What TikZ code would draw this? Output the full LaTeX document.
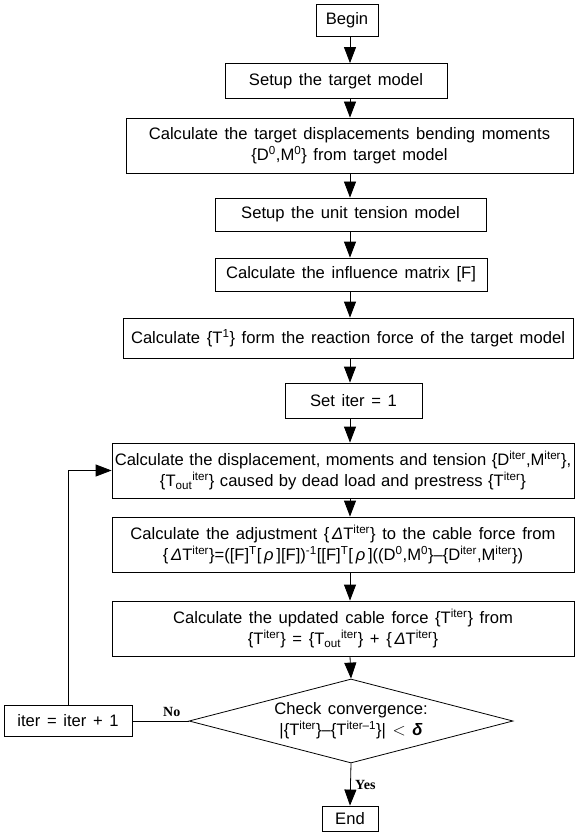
\documentclass[tikz,border=0pt]{standalone}
\usepackage{fontspec}
\setmainfont{Liberation Sans}
\newfontfamily\labelfont{Liberation Serif}
\usetikzlibrary{arrows.meta,shapes.geometric}
% superscript / subscript helpers
\newcommand{\Up}[1]{\textsuperscript{#1}}
\newcommand{\Dn}[1]{\textsubscript{#1}}
\newcommand{\DT}{\textit{Δ}T}
% slightly wider word spacing for the box texts
\newcommand{\widespaces}{\spaceskip=0.4em plus 0.1em\relax}
\newcommand{\tightspaces}{\spaceskip=0.33em plus 0.05em\relax}
\begin{document}
\begin{tikzpicture}[x=1pt,y=-1pt,
  font=\fontsize{16.6}{21}\selectfont,
  box/.style={draw, line width=0.8pt, inner sep=0pt, align=center,
              execute at begin node=\widespaces},
  flow/.style={-{Triangle[width=12pt,length=16pt]}, line width=0.8pt},
  line/.style={line width=0.8pt},
  yn/.style={font=\labelfont\bfseries\fontsize{14}{16}\selectfont}]
\useasboundingbox (0,0) rectangle (588,834);

% vertical axis of the main chain
\coordinate (axis) at (350,0);

\node[box, minimum width=62pt, minimum height=32pt] (begin) at (347,20) {Begin};
\node[box, minimum width=222pt, minimum height=35pt] (setup) at (336,81) {Setup the target model};
\node[box, minimum width=447pt, minimum height=55pt] (target) at (349.5,145.5)
  {Calculate the target displacements bending moments\\
   \{D\Up{0},M\Up{0}\} from target model};
\node[box, minimum width=271pt, minimum height=33pt] (unit) at (350.5,214.5) {Setup the unit tension model};
\node[box, minimum width=272pt, minimum height=33pt] (infl) at (351,274.5) {Calculate the influence matrix [F]};
\node[box, minimum width=450pt, minimum height=40pt] (tone) at (348,338)
  {Calculate \{T\Up{1}\} form the reaction force of the target model};
\node[box, minimum width=137pt, minimum height=35pt] (setiter) at (353.5,400.5) {Set iter = 1};
\node[box, minimum width=462pt, minimum height=55pt,
      execute at begin node=\tightspaces] (disp) at (343,470.5)
  {Calculate the displacement, moments and tension \{D\Up{iter},M\Up{iter}\},\\
   \{T\Dn{out}\Up{iter}\} caused by dead load and prestress \{T\Up{iter}\}};
\node[box, minimum width=462pt, minimum height=55pt] (adj) at (343,544.5)
  {Calculate the adjustment \{\,\DT\Up{iter}\} to the cable force from\\
   \{\,\DT\Up{iter}\}=([F]\Up{T}[\,\textit{ρ}\,][F])\Up{-1}[[F]\Up{T}[\,\textit{ρ}\,]((D\Up{0},M\Up{0}\}--\{D\Up{iter},M\Up{iter}\})};
\node[box, minimum width=462pt, minimum height=55pt] (upd) at (343,628.5)
  {Calculate the updated cable force \{T\Up{iter}\} from\\
   \{T\Up{iter}\} = \{T\Dn{out}\Up{iter}\} + \{\,\DT\Up{iter}\}};

% decision: outline and its text
\node[draw, line width=0.8pt, diamond, inner sep=0pt,
      minimum width=324pt, minimum height=84pt] (check) at (351,721) {};
\node[align=center, inner sep=0pt, execute at begin node=\widespaces] (checktext) at (check.center)
  {Check convergence:\\ |\{T\Up{iter}\}--\{T\Up{iter--1}\}| $<$ \textit{\textbf{δ}}};

\node[box, minimum width=128pt, minimum height=31pt] (inc) at (68,721) {iter = iter + 1};
\node[box, minimum width=56pt, minimum height=25pt] (end) at (350,818.5) {End};

% main chain
\draw[flow] (axis |- begin.south) -- (axis |- setup.north);
\draw[flow] (axis |- setup.south) -- (axis |- target.north);
\draw[flow] (axis |- target.south) -- (axis |- unit.north);
\draw[flow] (axis |- unit.south) -- (axis |- infl.north);
\draw[flow] (axis |- infl.south) -- (axis |- tone.north);
\draw[flow] (axis |- tone.south) -- (axis |- setiter.north);
\draw[flow] (axis |- setiter.south) -- (axis |- disp.north);
\draw[flow] (axis |- disp.south) -- (axis |- adj.north);
\draw[flow] (axis |- adj.south) -- (axis |- upd.north);
\draw[flow] (axis |- upd.south) -- (check.north);
\draw[flow] (check.south) -- node[yn, right, pos=0.5, xshift=1pt] {Yes} (end.north);

% iteration loop
\draw[line] (check.west) -- node[yn, above, pos=0.3, yshift=1pt] {No} (inc.east);
\draw[flow] (inc.north) -- (inc.north |- disp.west) -- (disp.west);
\end{tikzpicture}
\end{document}
